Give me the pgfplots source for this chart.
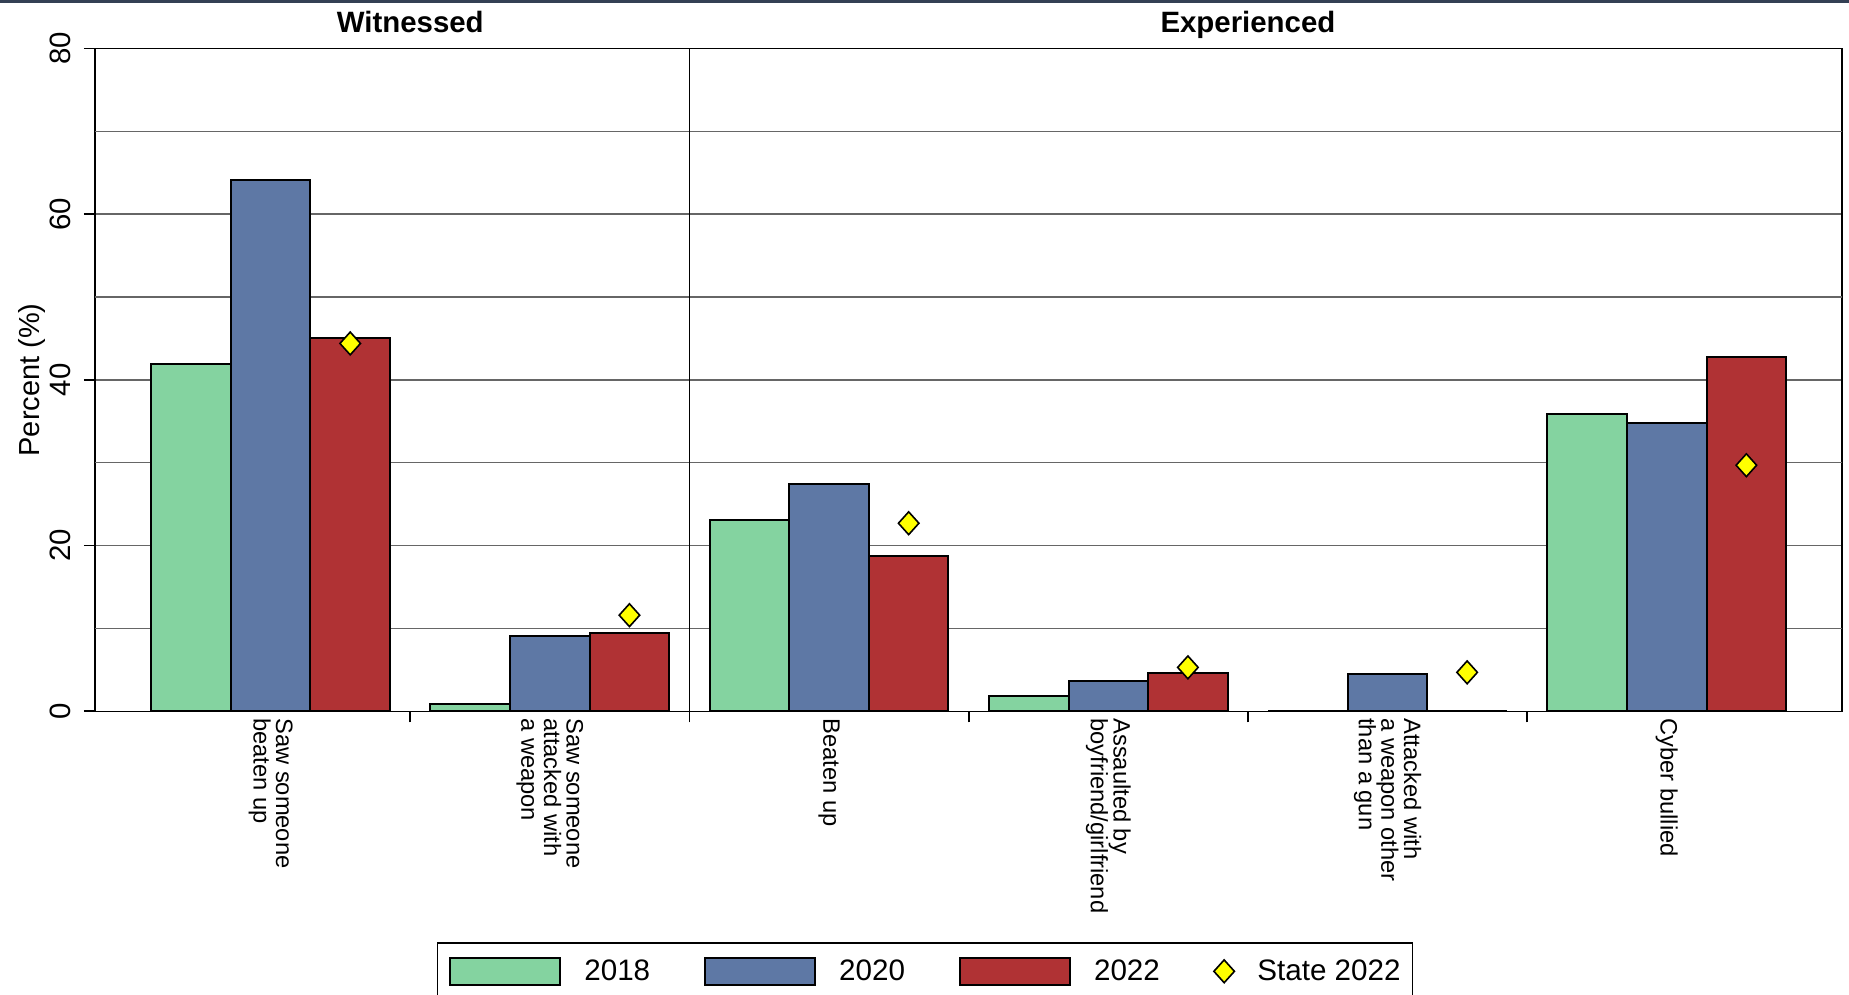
\documentclass[border=0pt]{standalone}
\usepackage{fontspec}
\setmainfont{Liberation Sans}
\usepackage{pgfplots}
\usepackage{pgfplotstable}
\pgfplotsset{compat=1.18}

\definecolor{c18}{RGB}{132,211,160}
\definecolor{c20}{RGB}{94,120,165}
\definecolor{c22}{RGB}{176,50,52}
\definecolor{st}{RGB}{255,255,0}
\definecolor{topline}{RGB}{52,64,84}

\pgfplotsset{
  barleg/.style={legend image code/.code={\draw[##1] (0pt,-6.75pt) rectangle (55pt,6.75pt);}},
  markleg/.style={legend image code/.code={\draw[##1] plot coordinates {(0pt,0pt)};}},
  yearbar/.style={ybar, bar width=0.285, draw=black, line width=1pt, fill=#1, barleg},
}

% values (percent)
\pgfplotstableread{
x   y18   y20   y22    st
0   41.9  64.1  45.1   44.4
1   0.9   9.1   9.45   11.6
2   23.1  27.4  18.8   22.7
3   1.85  3.6   4.66   5.3
4   0     4.5   0      4.7
5   35.9  34.8  42.8   29.7
}\datatable

\begin{document}
\begin{tikzpicture}
\begin{axis}[
  scale only axis,
  width=873.5pt, height=331.4pt,
  xmin=-0.629, xmax=5.6275,
  ymin=0, ymax=80,
  clip=false,
  axis line style={line width=0.7pt},
  tick pos=left, tick align=outside,
  major tick length=5.5pt,
  tick style={black, line width=0.8pt},
  /pgf/number format/assume math mode=true,
  ytick={0,20,40,60,80},
  yticklabel style={rotate=90, anchor=south, inner xsep=0pt, inner ysep=6.5pt,
    font=\fontsize{14.7}{16}\selectfont},
  extra y ticks={10,30,50,70},
  extra y tick labels={},
  extra y tick style={major tick length=0pt, grid=major},
  ymajorgrids,
  grid style={line width=0.75pt, black!60},
  xtick={0.5,1.5,2.5,3.5,4.5},
  xticklabels={},
  extra x ticks={0,1,2,3,4,5},
  extra x tick labels={{Saw someone\\beaten up},{Saw someone\\attacked with\\a weapon},{Beaten up},{Assaulted by\\boyfriend/girlfriend},{Attacked with\\a weapon other\\than a gun},{Cyber bullied}},
  extra x tick style={major tick length=0pt, grid=none},
  xticklabel style={rotate=-90, anchor=west, align=left,
    font=\fontsize{11.85}{11.3}\selectfont},
  ylabel={Percent (\%)},
  ylabel style={at={(axis description cs:-0.0358,0.5)}, anchor=center,
    font=\fontsize{14.5}{16}\selectfont},
  legend columns=4,
  legend cell align=left,
  legend style={at={(0.4751,-0.3481)}, anchor=north, draw=black, line width=0.8pt,
    inner xsep=6pt, inner ysep=7pt, font=\fontsize{14.8}{16}\selectfont,
    nodes={inner sep=0pt},
    /tikz/every even column/.append style={column sep=27pt},
    /tikz/every odd column/.append style={column sep=11.5pt}},
]
\addplot[yearbar=c18, bar shift=-0.285] table[x=x, y=y18] {\datatable};
\addlegendentry{2018}
\addplot[yearbar=c20, bar shift=0] table[x=x, y=y20] {\datatable};
\addlegendentry{2020}
\addplot[yearbar=c22, bar shift=0.285] table[x=x, y=y22] {\datatable};
\addlegendentry{2022}
\addplot[only marks, mark=diamond*, mark size=5.7pt,
  mark options={fill=st, draw=black, line width=0.8pt, xscale=1.2}, markleg]
  table[x expr=\thisrow{x}+0.285, y=st] {\datatable};
\addlegendentry{State 2022}

\draw[line width=0.8pt] (axis cs:1.5,0) -- (axis cs:1.5,80);
\node[anchor=base, font=\bfseries\fontsize{14.7}{16}\selectfont, yshift=8pt] at (axis cs:0.5,80) {Witnessed};
\node[anchor=base, font=\bfseries\fontsize{14.7}{16}\selectfont, yshift=8pt] at (axis cs:3.5,80) {Experienced};
\end{axis}
\draw[topline, line width=1.5pt] (-47.5pt,354.9pt) -- (877pt,354.9pt);
\pgfresetboundingbox
\path[use as bounding box] (-47.5pt,-141.85pt) rectangle (877pt,355.65pt);
\end{tikzpicture}
\end{document}
